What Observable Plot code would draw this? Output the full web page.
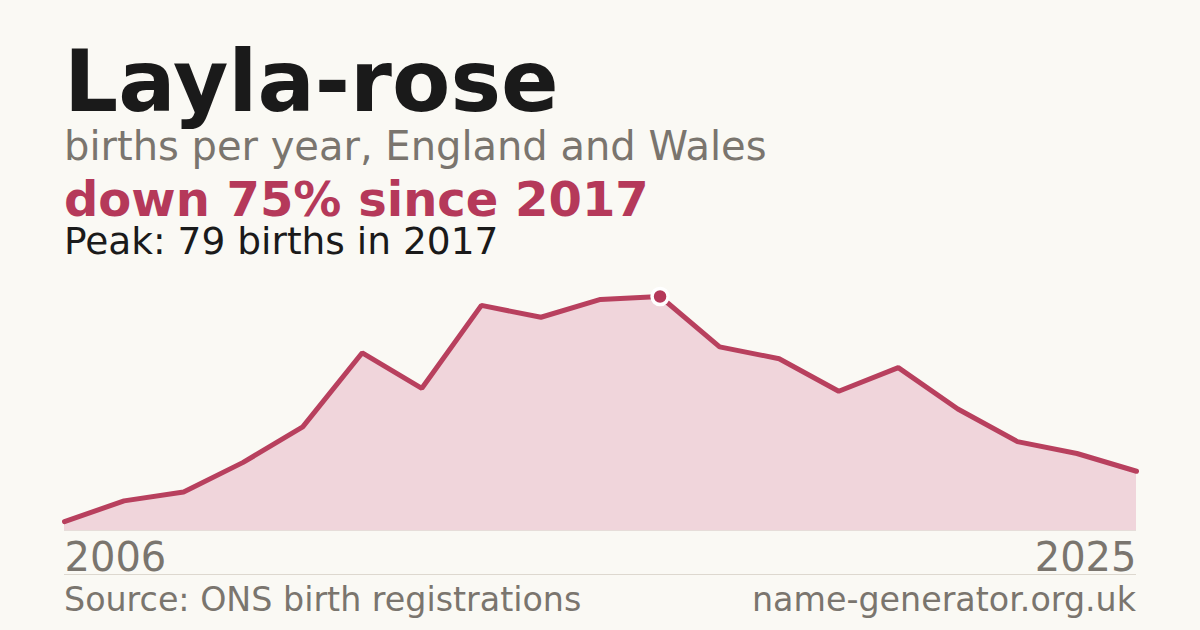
<!DOCTYPE html>
<html>
<head>
<meta charset="utf-8">
<script src="https://cdn.jsdelivr.net/npm/d3@7"></script>
<script src="https://cdn.jsdelivr.net/npm/@observablehq/plot@0.6"></script>
<style>
  html, body { margin: 0; padding: 0; background: #faf9f4; }
  body { width: 1200px; height: 630px; position: relative; overflow: hidden; font-family: "DejaVu Sans", sans-serif; }
  .t { position: absolute; left: 64px; white-space: nowrap; line-height: 0.9; }
  #title { font-weight: bold; font-size: 85px; color: #1a1a1a; top: 44px; }
  #sub { font-size: 40px; color: #7a756e; top: 128px; }
  #change { font-weight: bold; font-size: 48px; color: #b5395a; top: 178px; }
  #peak { font-size: 37.5px; color: #1a1a1a; top: 225px; }
  #chart { position: absolute; left: 0; top: 270px; }
  #rule { position: absolute; left: 64px; width: 1072px; top: 574px; height: 1px; background: #ddd8cf; }
  #source { font-size: 33.3px; color: #7a756e; top: 585px; }
  #site { position: absolute; right: 64px; font-size: 33.3px; color: #7a756e; top: 585px; white-space: nowrap; line-height: 0.9; }
</style>
</head>
<body>
<div class="t" id="title">Layla-rose</div>
<div class="t" id="sub">births per year, England and Wales</div>
<div class="t" id="change">down 75% since 2017</div>
<div class="t" id="peak">Peak: 79 births in 2017</div>
<div id="chart"></div>
<div id="rule"></div>
<div class="t" id="source">Source: ONS birth registrations</div>
<div id="site">name-generator.org.uk</div>
<script>
const births = [3, 10, 13, 23, 35, 60, 48, 76, 72, 78, 79, 62, 58, 47, 55, 41, 30, 26, 20];
const tickLabels = ["2006", "2025"];
const peakIndex = 10;

const data = births.map((v, i) => ({i, v}));
const lastIndex = births.length - 1;

const plot = Plot.plot({
  width: 1200,
  height: 320,
  marginLeft: 64,
  marginRight: 64,
  marginTop: 26,
  marginBottom: 60,
  style: {background: "transparent", fontFamily: "DejaVu Sans, sans-serif"},
  x: {domain: [0, lastIndex], axis: null},
  y: {domain: [0, 79], axis: null},
  marks: [
    Plot.areaY(data, {x: "i", y: "v", fill: "#f0d5db"}),
    Plot.ruleY([0], {stroke: "#e6ddd9", strokeWidth: 1}),
    Plot.lineY(data, {x: "i", y: "v", stroke: "#b8405e", strokeWidth: 5, strokeLinejoin: "miter"}),
    Plot.dot([data[peakIndex]], {x: "i", y: "v", r: 8, fill: "#b5395a", stroke: "#ffffff", strokeWidth: 3.5}),
    Plot.text([{i: 0, label: tickLabels[0]}], {x: "i", text: "label", frameAnchor: "bottom", textAnchor: "start", lineAnchor: "bottom", dy: 40, fontSize: 40, fill: "#7a756e"}),
    Plot.text([{i: lastIndex, label: tickLabels[1]}], {x: "i", text: "label", frameAnchor: "bottom", textAnchor: "end", lineAnchor: "bottom", dy: 40, fontSize: 40, fill: "#7a756e"})
  ]
});
document.getElementById("chart").appendChild(plot);
</script>
</body>
</html>
